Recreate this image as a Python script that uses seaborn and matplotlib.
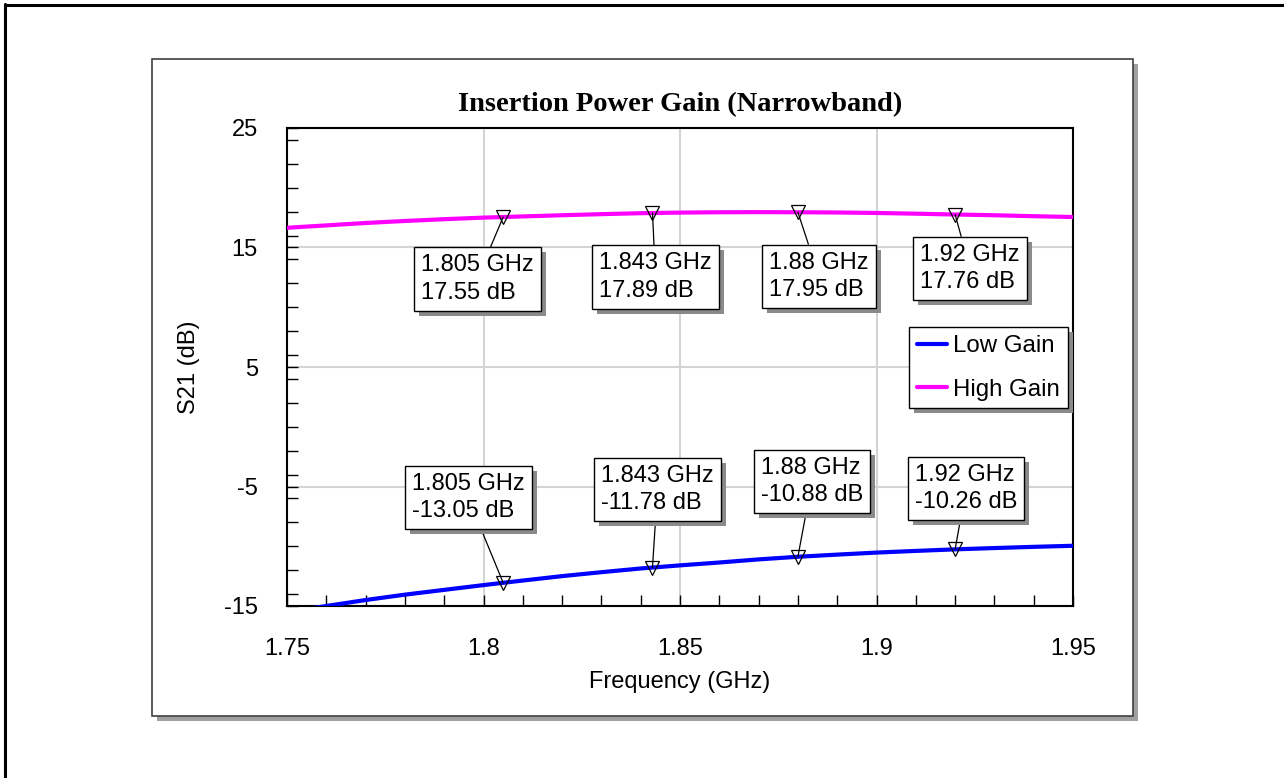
import numpy as np
import pandas as pd
import matplotlib
matplotlib.use("Agg")
import matplotlib.pyplot as plt
import matplotlib.patheffects as pe
from matplotlib.patches import Rectangle
from matplotlib.lines import Line2D
from matplotlib.ticker import MultipleLocator
import seaborn as sns

# ---- data ----
freq = [1.75, 1.76, 1.77, 1.78, 1.79, 1.80, 1.81, 1.82, 1.83, 1.84, 1.85,
        1.86, 1.87, 1.88, 1.89, 1.90, 1.91, 1.92, 1.93, 1.94, 1.95]
low_gain = [-15.5, -15.0, -14.5, -14.05, -13.65, -13.25, -12.87, -12.5, -12.17, -11.86, -11.6,
            -11.36, -11.1, -10.88, -10.7, -10.53, -10.39, -10.26, -10.15, -10.05, -9.96]
high_gain = [16.65, 16.85, 17.05, 17.22, 17.37, 17.5, 17.6, 17.7, 17.79, 17.87, 17.92,
             17.95, 17.96, 17.95, 17.93, 17.89, 17.83, 17.76, 17.7, 17.62, 17.55]
series_names = ["Low Gain", "High Gain"]
series_colors = ["#0000ff", "#ff00ff"]
marker_freq = [1.805, 1.843, 1.88, 1.92]
marker_low = [-13.05, -11.78, -10.88, -10.26]
marker_high = [17.55, 17.89, 17.95, 17.76]
x_ticks = [1.75, 1.8, 1.85, 1.9, 1.95]
x_tick_labels = ["1.75", "1.8", "1.85", "1.9", "1.95"]
y_ticks = [-15, -5, 5, 15, 25]
y_tick_labels = ["-15", "-5", "5", "15", "25"]
title = "Insertion Power Gain (Narrowband)"
x_label = "Frequency (GHz)"
y_label = "S21 (dB)"

df = pd.DataFrame({
    "freq": freq * 2,
    "gain": low_gain + high_gain,
    "series": [series_names[0]] * len(freq) + [series_names[1]] * len(freq),
})

sns.set_style("white")
plt.rcParams["font.family"] = ["Liberation Sans", "DejaVu Sans"]
for k in ("text.color", "axes.labelcolor", "xtick.color", "ytick.color"):
    plt.rcParams[k] = "black"
FS = 17

W, H = 1284, 778
fig = plt.figure(figsize=(W / 100, H / 100), dpi=100)
fig.patch.set_facecolor("white")

# outer frame lines (top and left)
fig.add_artist(Line2D([5.5 / W, 5.5 / W], [0, 1 - 3.5 / H], color="black", lw=2.2,
                      transform=fig.transFigure, zorder=-5))
fig.add_artist(Line2D([5.5 / W, 1], [1 - 4.5 / H, 1 - 4.5 / H], color="black", lw=2.2,
                      transform=fig.transFigure, zorder=-5))

# inner panel with drop shadow
px0, px1, py0, py1 = 152, 1133, 59, 716
fig.add_artist(Rectangle(((px0 + 5) / W, 1 - (py1 + 5) / H), (px1 - px0) / W, (py1 - py0) / H,
                         transform=fig.transFigure, facecolor="#a0a0a0", edgecolor="none", zorder=-4))
fig.add_artist(Rectangle((px0 / W, 1 - py1 / H), (px1 - px0) / W, (py1 - py0) / H,
                         transform=fig.transFigure, facecolor="white", edgecolor="#404040",
                         lw=1.2, zorder=-3))

ax0, ax1, ay0, ay1 = 287, 1073, 128, 606
ax = fig.add_axes([ax0 / W, 1 - ay1 / H, (ax1 - ax0) / W, (ay1 - ay0) / H])
ax.set_facecolor("white")

sns.lineplot(data=df, x="freq", y="gain", hue="series", hue_order=series_names,
             palette=series_colors, linewidth=3.0, legend=False, ax=ax, zorder=3)

# markers
for vals in (marker_low, marker_high):
    ax.plot(marker_freq, vals, linestyle="none", marker="v", markersize=10,
            markerfacecolor="none", markeredgecolor="black", markeredgewidth=0.9, zorder=4)

ax.set_xlim(1.75, 1.95)
ax.set_ylim(-15, 25)
ax.set_xticks(x_ticks)
ax.set_xticklabels(x_tick_labels)
ax.set_yticks(y_ticks)
ax.set_yticklabels(y_tick_labels)
ax.xaxis.set_minor_locator(MultipleLocator(0.01))
ax.yaxis.set_minor_locator(MultipleLocator(2))
ax.tick_params(axis="both", which="both", direction="in", length=8, width=1,
               color="black", top=False, right=False, bottom=True, left=True)
ax.tick_params(axis="x", which="major", labelsize=FS, pad=23)
ax.tick_params(axis="y", which="major", labelsize=FS, pad=21)
ax.grid(True, which="major", color="#d4d4d4", linewidth=1.5, zorder=0)
ax.set_axisbelow(True)
for s in ax.spines.values():
    s.set_visible(True)
    s.set_color("black")
    s.set_linewidth(1.5)

ax.set_xlabel(x_label, fontsize=FS, labelpad=8)
ax.set_ylabel(y_label, fontsize=FS, labelpad=17)
ax.set_title(title, fontsize=20.5, fontweight="bold", family=["Liberation Serif", "DejaVu Serif"],
             pad=12)

# annotations (offsets in pixels from the marker)
offsets_high = [(-26, -62), (3, -64), (21, -64), (15, -54)]
offsets_low = [(-35, 85), (5, 78), (14, 75), (11, 61)]
shadow = [pe.withSimplePatchShadow(offset=(3.6, -3.6), shadow_rgbFace="#8a8a8a", alpha=1.0)]
for vals, offs in ((marker_high, offsets_high), (marker_low, offsets_low)):
    for f, v, (dx, dy) in zip(marker_freq, vals, offs):
        ann = ax.annotate(f"{f:g} GHz\n{v:.2f} dB", xy=(f, v), xytext=(dx, dy),
                          textcoords="offset pixels", ha="center", va="center",
                          multialignment="left", fontsize=FS, linespacing=1.3,
                          bbox=dict(boxstyle="square,pad=0.3", facecolor="white",
                                    edgecolor="black", lw=1.0),
                          arrowprops=dict(arrowstyle="-", color="black", lw=0.9,
                                          shrinkA=0, shrinkB=0),
                          zorder=6)
        ann.get_bbox_patch().set_path_effects(shadow)

handles = [Line2D([], [], color=c, lw=3.0) for c in series_colors]
leg = ax.legend(handles, series_names, loc="upper left",
                bbox_to_anchor=((909 - ax0) / (ax1 - ax0), (ay1 - 327) / (ay1 - ay0)),
                borderaxespad=0, fontsize=17.3, frameon=True, fancybox=False,
                handlelength=1.25, handletextpad=0.25, labelspacing=0.9, borderpad=0.33)
frame = leg.get_frame()
frame.set_edgecolor("black")
frame.set_linewidth(1.0)
frame.set_facecolor("white")
frame.set_alpha(1.0)
frame.set_path_effects(shadow)
leg.set_zorder(7)

fig.savefig("out.png", dpi=100)
